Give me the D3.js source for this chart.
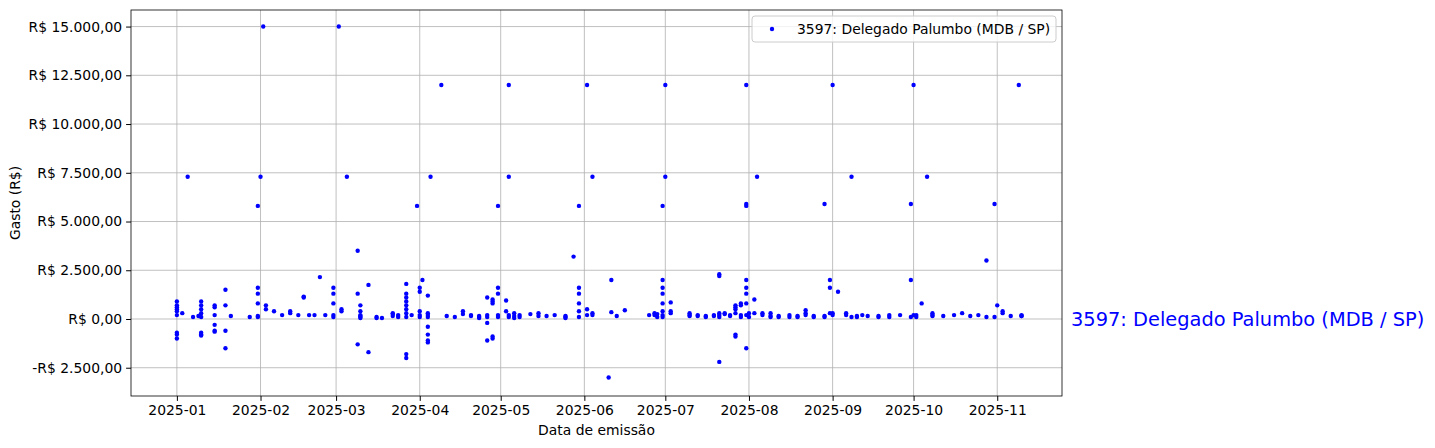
<!DOCTYPE html>
<html><head><meta charset="utf-8">
<script src="https://cdn.jsdelivr.net/npm/d3@7"></script>
<style>body{margin:0;background:#fff}text{font-family:"DejaVu Sans",sans-serif}</style>
</head><body><svg id="c" width="1435" height="448"></svg>
<script>
const seriesName = "3597: Delegado Palumbo (MDB / SP)";
const yTicks = [-2500,0,2500,5000,7500,10000,12500,15000];
const xTickLabels = ["2025-01","2025-02","2025-03","2025-04","2025-05","2025-06","2025-07","2025-08","2025-09","2025-10","2025-11"];
// [date, values on that date]
const expenseDays = [
["2025-01-01",[400,600,900,700,500,200,-700,-1000,-800]],["2025-01-03",[300]],["2025-01-05",[7300]],["2025-01-07",[100]],["2025-01-09",[150]],
["2025-01-10",[900,700,500,300,100,-700,-850,-800]],["2025-01-15",[200,-300,600,700,-600,-650]],["2025-01-19",[1500,700,-600,-1500]],["2025-01-21",[150]],
["2025-01-28",[100]],["2025-01-31",[5800,1600,1300,800,150,100]],["2025-02-01",[7300]],["2025-02-02",[15000]],["2025-02-03",[700,500]],["2025-02-06",[400]],
["2025-02-09",[200]],["2025-02-12",[400,300]],["2025-02-15",[200]],["2025-02-17",[1150,1100]],["2025-02-19",[200]],["2025-02-21",[200]],["2025-02-23",[2150]],
["2025-02-25",[200]],["2025-02-28",[1600,1300,800,200,100]],["2025-03-02",[15000]],["2025-03-03",[500,400]],["2025-03-05",[7300]],["2025-03-09",[3500,1300,-1300]],
["2025-03-10",[700,400,200,100,50,150]],["2025-03-13",[1750,-1700]],["2025-03-16",[100,50]],["2025-03-18",[50]],["2025-03-22",[300,250,150]],["2025-03-24",[100,200]],
["2025-03-27",[1800,1300,1100,900,700,500,300,100,-1800,-2000]],["2025-03-29",[200]],["2025-03-31",[5800]],["2025-04-01",[1600,1400,400,200,100]],["2025-04-02",[2000]],
["2025-04-04",[1200,300,200,100,-400,-800,-1100,-1200]],["2025-04-05",[7300]],["2025-04-09",[12000]],["2025-04-11",[150]],["2025-04-14",[100]],["2025-04-17",[400,250]],
["2025-04-20",[200,150]],["2025-04-23",[100,150,50]],["2025-04-26",[1100,100,200,-200,-1100]],["2025-04-28",[900,800,1000,-900,-1000]],["2025-04-30",[5800,1600,1300,100,200]],
["2025-05-03",[950,400]],["2025-05-04",[12000,7300,200,100]],["2025-05-06",[300,150,50]],["2025-05-08",[200,100]],["2025-05-12",[250]],["2025-05-15",[150,300]],
["2025-05-18",[150]],["2025-05-21",[200]],["2025-05-25",[150,100,50]],["2025-05-28",[3200]],["2025-05-30",[5800,1600,1300,800,400,100]],["2025-06-02",[12000,500,200]],
["2025-06-04",[7300,300,200]],["2025-06-10",[-3000]],["2025-06-11",[2000,350]],["2025-06-13",[150]],["2025-06-16",[450]],["2025-06-25",[200]],["2025-06-27",[300,200]],
["2025-06-28",[250,100]],["2025-06-30",[5800,2000,1600,1300,800,400,200,100]],["2025-07-01",[12000,7300]],["2025-07-03",[850,300,400]],["2025-07-10",[300,200,150]],
["2025-07-13",[200,150]],["2025-07-16",[100,150]],["2025-07-19",[200,150]],["2025-07-21",[2300,2200,300,200,100,-2200]],["2025-07-23",[300,250]],["2025-07-25",[200,150]],
["2025-07-27",[300,500,600,700,-800,-900]],["2025-07-29",[800,700,200,100]],["2025-07-31",[12000,5900,5800,2000,1600,1300,800,200,-1500]],["2025-08-01",[300,100]],
["2025-08-03",[1000,300]],["2025-08-04",[7300]],["2025-08-06",[300,200]],["2025-08-09",[300,150,100]],["2025-08-12",[150,100]],["2025-08-16",[100,200]],["2025-08-19",[150,100]],
["2025-08-22",[200,300,450]],["2025-08-25",[100,150]],["2025-08-29",[5900,100,150]],["2025-08-31",[2000,1600,300]],["2025-09-01",[12000,300,200]],["2025-09-03",[1400]],
["2025-09-06",[300,200]],["2025-09-08",[7300,100]],["2025-09-10",[150,100]],["2025-09-12",[200]],["2025-09-14",[150]],["2025-09-18",[150,100]],["2025-09-22",[100,200]],
["2025-09-26",[200]],["2025-09-30",[5900]],["2025-09-30",[2000,100]],["2025-10-01",[12000,200]],["2025-10-02",[100,200]],["2025-10-04",[800]],["2025-10-06",[7300]],
["2025-10-08",[300,200,150]],["2025-10-12",[150]],["2025-10-16",[200]],["2025-10-19",[300]],["2025-10-22",[150]],["2025-10-25",[200]],["2025-10-28",[3000,100]],
["2025-10-31",[5900,100]],["2025-11-01",[700]],["2025-11-03",[300,400]],["2025-11-06",[150]],["2025-11-09",[12000]],["2025-11-10",[200,150,150]]
];
const parse = d3.timeParse("%Y-%m-%d");
const pts = expenseDays.flatMap(([d,vs]) => vs.map(v => ({d:parse(d), v})));
const svg = d3.select("#c");
const L=131,R=1062,T=10,B=396;
const x = d3.scaleTime().domain([parse("2024-12-15"),parse("2025-11-25")]).range([L,R]);
const y = d3.scaleLinear().domain([-3950,15850]).range([B,T]);
const fmt = v => (v<0?"-":"")+"R$ "+d3.format(",.2f")(Math.abs(v)).replace(/,/g,"#").replace(".",",").replace(/#/g,".");
const xt = xTickLabels.map(s=>parse(s+"-01"));
const g = svg.append("g");
g.selectAll(".gx").data(xt).join("line").attr("x1",d=>x(d)).attr("x2",d=>x(d)).attr("y1",T).attr("y2",B).attr("stroke","#b0b0b0").attr("stroke-width",0.8);
g.selectAll(".gy").data(yTicks).join("line").attr("y1",d=>y(d)).attr("y2",d=>y(d)).attr("x1",L).attr("x2",R).attr("stroke","#b0b0b0").attr("stroke-width",0.8);
svg.append("g").attr("transform",`translate(0,${B})`).call(d3.axisBottom(x).tickValues(xt).tickFormat(d3.timeFormat("%Y-%m")).tickSizeOuter(0).tickSize(4.9).tickPadding(4))
 .call(a=>{a.select(".domain").remove();a.selectAll("text").attr("font-size",13.9).attr("fill","#000");});
svg.append("g").attr("transform",`translate(${L},0)`).call(d3.axisLeft(y).tickValues(yTicks).tickFormat(fmt).tickSizeOuter(0).tickSize(4.9).tickPadding(4))
 .call(a=>{a.select(".domain").remove();a.selectAll("text").attr("font-size",13.9).attr("fill","#000");});
svg.append("g").selectAll("circle").data(pts).join("circle").attr("cx",d=>x(d.d)).attr("cy",d=>y(d.v)).attr("r",2.2).attr("fill","blue");
svg.append("rect").attr("x",L).attr("y",T).attr("width",R-L).attr("height",B-T).attr("fill","none").attr("stroke","#000").attr("stroke-width",0.8);
svg.append("text").attr("x",(L+R)/2).attr("y",435).attr("text-anchor","middle").attr("font-size",13.9).text("Data de emissão");
svg.append("text").attr("transform",`translate(20,${(T+B)/2}) rotate(-90)`).attr("text-anchor","middle").attr("font-size",13.9).text("Gasto (R$)");
svg.append("rect").attr("x",752).attr("y",16).attr("width",304).attr("height",26).attr("rx",3).attr("fill","#fff").attr("fill-opacity",0.8).attr("stroke","#ccc");
svg.append("circle").attr("cx",772).attr("cy",29).attr("r",2.2).attr("fill","blue");
svg.append("text").attr("x",797).attr("y",34).attr("font-size",13.9).text(seriesName);
svg.append("text").attr("x",1071).attr("y",326).attr("font-size",19.4).attr("fill","blue").text(seriesName);
</script></body></html>
